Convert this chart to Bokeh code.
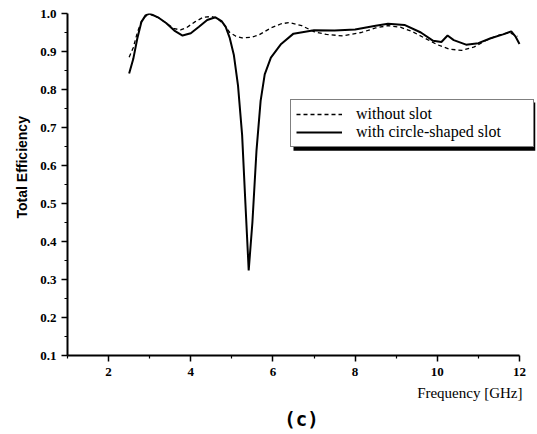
from bokeh.plotting import figure
from bokeh.models import (Range1d, FixedTicker, PrintfTickFormatter, Legend, LegendItem,
                          Title, BoxAnnotation)
from bokeh.embed import file_html
from bokeh.resources import INLINE

# ---- data ----
freq_with = [2.5, 2.6, 2.7, 2.8, 2.9, 3.0, 3.2, 3.4, 3.6, 3.8, 4.0, 4.2, 4.4, 4.6, 4.75,
             4.85, 4.95, 5.05, 5.15, 5.25, 5.33, 5.41, 5.5, 5.6, 5.7, 5.8, 5.95, 6.2, 6.5,
             7.0, 7.5, 8.0, 8.5, 8.8, 9.2, 9.6, 9.9, 10.1, 10.25, 10.4, 10.7, 11.0, 11.3,
             11.6, 11.8, 11.9, 12.0]
eff_with = [0.842, 0.88, 0.935, 0.978, 0.995, 1.0, 0.99, 0.975, 0.955, 0.942, 0.948, 0.965,
            0.983, 0.99, 0.98, 0.965, 0.935, 0.89, 0.81, 0.68, 0.5, 0.324, 0.45, 0.64, 0.77,
            0.84, 0.884, 0.92, 0.947, 0.956, 0.955, 0.958, 0.968, 0.973, 0.97, 0.95, 0.928,
            0.925, 0.942, 0.93, 0.918, 0.922, 0.935, 0.945, 0.953, 0.94, 0.92]

freq_without = [2.5, 2.6, 2.7, 2.8, 2.9, 3.0, 3.2, 3.4, 3.6, 3.75, 3.9, 4.1, 4.3, 4.5, 4.65,
                4.8, 4.95, 5.1, 5.25, 5.45, 5.65, 5.95, 6.2, 6.4, 6.7, 7.0, 7.3, 7.7, 8.15,
                8.5, 8.8, 9.1, 9.4, 9.7, 10.0, 10.3, 10.6, 10.9, 11.2, 11.5, 11.75, 11.95]
eff_without = [0.885, 0.91, 0.95, 0.98, 0.993, 0.998, 0.99, 0.975, 0.96, 0.957, 0.963, 0.978,
               0.99, 0.992, 0.987, 0.972, 0.95, 0.94, 0.936, 0.937, 0.943, 0.962, 0.973, 0.976,
               0.968, 0.952, 0.945, 0.941, 0.95, 0.962, 0.968, 0.964, 0.952, 0.935, 0.918,
               0.906, 0.903, 0.912, 0.93, 0.943, 0.95, 0.94]

x_ticks = [2, 4, 6, 8, 10, 12]
x_minor = [1, 3, 5, 7, 9, 11]
y_ticks = [0.1, 0.2, 0.3, 0.4, 0.5, 0.6, 0.7, 0.8, 0.9, 1.0]
y_minor = [0.15, 0.25, 0.35, 0.45, 0.55, 0.65, 0.75, 0.85, 0.95]

label_without = "without slot"
label_with = "with circle-shaped slot"
x_title = "Frequency [GHz]"
y_title = "Total Efficiency"
caption = "(c)"

# ---- figure ----
p = figure(width=537, height=434, output_backend="svg", toolbar_location=None,
           x_range=Range1d(1, 12.39), y_range=Range1d(0.1, 1.0),
           min_border_left=67, min_border_right=2, min_border_top=13, min_border_bottom=79)
p.outline_line_color = None
p.xgrid.visible = False
p.ygrid.visible = False
p.background_fill_color = "white"

serif = "Liberation Serif"
for ax in (p.xaxis[0], p.yaxis[0]):
    ax.axis_line_width = 2
    ax.axis_line_color = "black"
    ax.major_tick_line_width = 1.5
    ax.minor_tick_line_width = 1.2
    ax.major_tick_out = 6
    ax.major_tick_in = 0
    ax.minor_tick_out = 3
    ax.minor_tick_in = 0
    ax.major_label_text_font = serif
    ax.major_label_text_font_style = "bold"
    ax.major_label_text_font_size = "13px"
    ax.major_label_text_color = "black"

p.xaxis[0].ticker = FixedTicker(ticks=x_ticks, minor_ticks=x_minor)
p.xaxis[0].formatter = PrintfTickFormatter(format="%d")
p.xaxis[0].bounds = (1, 12)
p.xaxis[0].major_label_standoff = 6

p.yaxis[0].ticker = FixedTicker(ticks=y_ticks, minor_ticks=y_minor)
p.yaxis[0].formatter = PrintfTickFormatter(format="%.1f")
p.yaxis[0].major_label_standoff = 5

r_without = p.line(freq_without, eff_without, line_color="black", line_width=1.3, line_dash="4 3")
r_with = p.line(freq_with, eff_with, line_color="black", line_width=2)

# legend shadow (decorative box behind the legend)
p.add_layout(BoxAnnotation(left=6.50, right=12.39, top=0.766, bottom=0.639,
                           fill_color="black", fill_alpha=1.0, line_color=None))

legend = Legend(items=[LegendItem(label=label_without, renderers=[r_without]),
                       LegendItem(label=label_with, renderers=[r_with])],
                location=(223, 208), glyph_width=46, glyph_height=16, label_height=16,
                label_width=172, spacing=0, padding=5, label_standoff=14, margin=0,
                label_text_font=serif, label_text_font_size="16px", label_text_color="black",
                border_line_color="black", border_line_width=1.2,
                background_fill_color="white", background_fill_alpha=1.0)
p.add_layout(legend, "center")

p.add_layout(Title(text=y_title, align="left", offset=137, text_font="Liberation Sans",
                   text_font_size="14px", text_font_style="bold", text_color="black",
                   standoff=15), "left")

p.add_layout(Title(text=x_title, align="right", offset=13, text_font=serif,
                   text_font_size="15px", text_font_style="normal", text_color="black",
                   standoff=9), "below")
p.add_layout(Title(text=caption, align="center", text_font="DejaVu Sans Mono",
                   text_font_size="19px", text_font_style="bold", text_color="black",
                   standoff=0), "below")

open("out.html", "w").write(file_html(p, INLINE))
